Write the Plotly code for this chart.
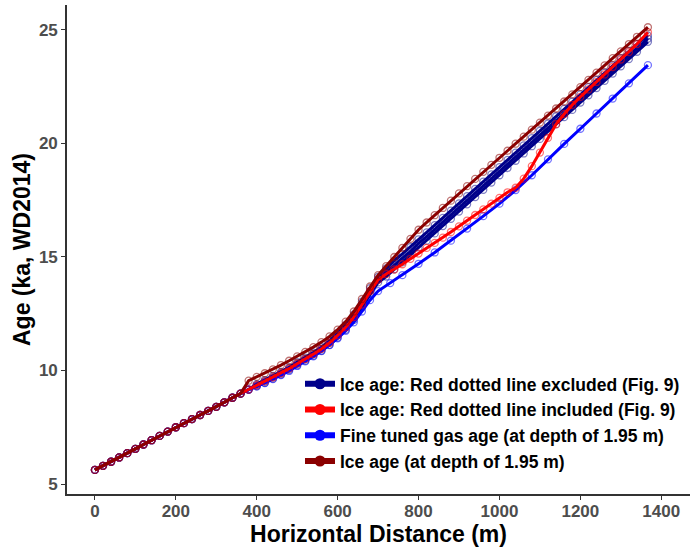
import plotly.graph_objects as go

# ---- data ----
dist = [0, 20, 40, 60, 80, 100, 120, 140, 160, 180, 200, 220, 240, 260, 280, 300, 320, 340, 360, 380,
        400, 420, 440, 460, 480, 500, 520, 540, 560, 580, 600, 620, 640, 660, 680, 700, 720, 740, 760, 780,
        800, 820, 840, 860, 880, 900, 920, 940, 960, 980, 1000, 1020, 1040, 1060, 1080, 1100, 1120, 1140,
        1160, 1180, 1200, 1220, 1240, 1260, 1280, 1300, 1320, 1340, 1367]

base = [5.62, 5.80, 5.98, 6.17, 6.36, 6.55, 6.74, 6.93, 7.12, 7.31, 7.50, 7.68, 7.86, 8.04, 8.22, 8.40,
        8.60, 8.80, 8.98, 9.16]

# Ice age, red dotted line excluded: a band of runs (upper, middle, lower member)
ice_excl_hi = base + [9.40, 9.58, 9.76, 9.94, 10.14, 10.37, 10.57, 10.79, 11.03, 11.31, 11.65, 12.01,
                      12.47, 13.03, 13.63, 14.12, 14.50, 14.84, 15.14, 15.44, 15.78, 16.08, 16.40, 16.72,
                      17.04, 17.36, 17.68, 18.00, 18.32, 18.64, 18.96, 19.28, 19.60, 19.92, 20.24, 20.56,
                      20.88, 21.20, 21.52, 21.84, 22.16, 22.48, 22.80, 23.12, 23.44, 23.76, 24.08, 24.38,
                      24.75]
ice_excl_mid = base + [9.35, 9.52, 9.70, 9.88, 10.08, 10.30, 10.50, 10.72, 10.95, 11.22, 11.55, 11.90,
                       12.35, 12.90, 13.50, 14.00, 14.32, 14.65, 14.95, 15.25, 15.60, 15.90, 16.22, 16.54,
                       16.86, 17.18, 17.50, 17.82, 18.14, 18.46, 18.78, 19.10, 19.42, 19.74, 20.06, 20.38,
                       20.70, 21.02, 21.34, 21.66, 21.98, 22.30, 22.62, 22.94, 23.26, 23.58, 23.90, 24.21,
                       24.62]
ice_excl_lo = base + [9.30, 9.46, 9.64, 9.82, 10.02, 10.23, 10.43, 10.65, 10.87, 11.13, 11.45, 11.79,
                      12.23, 12.77, 13.37, 13.88, 14.14, 14.46, 14.76, 15.06, 15.42, 15.72, 16.04, 16.36,
                      16.68, 17.00, 17.32, 17.64, 17.96, 18.28, 18.60, 18.92, 19.24, 19.56, 19.88, 20.20,
                      20.52, 20.84, 21.16, 21.48, 21.80, 22.12, 22.44, 22.76, 23.08, 23.40, 23.72, 24.04,
                      24.48]

ice_incl = base + [9.35, 9.52, 9.70, 9.88, 10.08, 10.30, 10.50, 10.72, 10.95, 11.22, 11.55, 11.90, 12.35,
                   12.90, 13.50, 14.00, 14.25, 14.45, 14.68, 14.92, 15.15, 15.40, 15.62, 15.85, 16.10,
                   16.35, 16.60, 16.85, 17.10, 17.35, 17.60, 17.85, 18.05, 18.45, 19.00, 19.60, 20.25,
                   20.85, 21.30, 21.70, 22.05, 22.38, 22.71, 23.04, 23.37, 23.70, 24.03, 24.38, 24.90]

ice_195 = base[:-1] + [9.55, 9.72, 9.88, 10.05, 10.24, 10.43, 10.62, 10.82, 11.03, 11.25, 11.50, 11.80,
                       12.15, 12.60, 13.15, 13.70, 14.20, 14.60, 15.00, 15.40, 15.80, 16.20, 16.52, 16.84,
                       17.16, 17.48, 17.80, 18.12, 18.44, 18.75, 19.06, 19.37, 19.68, 19.99, 20.30, 20.61,
                       20.92, 21.23, 21.54, 21.85, 22.16, 22.48, 22.80, 23.12, 23.44, 23.76, 24.06, 24.38,
                       24.70, 25.12]

gas_dist = [0, 20, 40, 60, 80, 100, 120, 140, 160, 180, 200, 220, 240, 260, 280, 300, 320, 340, 360, 380,
            400, 420, 440, 460, 480, 500, 520, 540, 560, 580, 600, 620, 640, 660, 680, 700,
            730, 760, 800, 840, 880, 920, 960, 1000, 1040, 1080, 1120, 1160, 1200, 1240, 1280, 1320, 1367]
gas_age = base + [9.30, 9.45, 9.62, 9.80, 9.98, 10.20, 10.40, 10.62, 10.86, 11.12, 11.42, 11.75, 12.12,
                  12.60, 13.10, 13.50, 13.85, 14.20, 14.70, 15.20, 15.72, 16.25, 16.80, 17.35, 17.95,
                  18.60, 19.30, 19.98, 20.65, 21.32, 21.98, 22.65, 23.45]

names = ["Ice age: Red dotted line excluded (Fig. 9)",
         "Ice age: Red dotted line included (Fig. 9)",
         "Fine tuned gas age (at depth of 1.95 m)",
         "Ice age (at depth of 1.95 m)"]
colors = ["#00008B", "#FF0000", "#0000FF", "#8B0000"]
marker_colors = ["rgba(0,0,139,0.5)", "rgba(255,0,0,0.55)", "rgba(0,0,255,0.55)", "rgba(139,0,0,0.55)"]

# (series index, x, y) in drawing order
members = [
    (0, dist, ice_excl_lo), (0, dist, ice_excl_hi), (0, dist, ice_excl_mid),
    (2, gas_dist, gas_age),
    (1, dist, ice_incl),
    (3, dist, ice_195),
]

fig = go.Figure()
for i, xs, ys in members:
    fig.add_trace(go.Scatter(
        x=xs, y=ys, mode="lines+markers", name=names[i], legendgroup=str(i), showlegend=False,
        line=dict(color=colors[i], width=3),
        marker=dict(symbol="circle-open", size=7, color=marker_colors[i], line=dict(width=1.3)),
    ))

# legend keys (thick line with filled dot, as in the reference)
for i in range(4):
    fig.add_trace(go.Scatter(
        x=[None], y=[None], mode="lines+markers", name=names[i], legendgroup=str(i),
        showlegend=True, legendrank=i + 1,
        line=dict(color=colors[i], width=6),
        marker=dict(symbol="circle", size=11, color=colors[i]),
    ))

font_family = "Liberation Sans, Arial, sans-serif"
fig.update_layout(
    width=691, height=552,
    margin=dict(l=67, r=1, t=5, b=58),
    paper_bgcolor="white", plot_bgcolor="white",
    font=dict(family=font_family),
    showlegend=True,
    legend=dict(x=0.374, y=0.262, xanchor="left", yanchor="top",
                font=dict(family=font_family, size=17.5, color="black", weight="bold"),
                bgcolor="rgba(255,255,255,0)", tracegroupgap=0, itemwidth=30),
    xaxis=dict(range=[-69, 1471], tickvals=[0, 200, 400, 600, 800, 1000, 1200, 1400],
               showgrid=False, zeroline=False, showline=True, linecolor="#333333", linewidth=1.6,
               ticks="outside", ticklen=4, tickcolor="#333333", tickwidth=1.2, automargin=False,
               ticklabelstandoff=-3,
               tickfont=dict(size=17, color="#4D4D4D", weight="bold"),
               title=dict(text="Horizontal Distance (m)", standoff=0,
                          font=dict(size=23, color="black", weight="bold"))),
    yaxis=dict(range=[4.56, 26.1], tickvals=[5, 10, 15, 20, 25],
               showgrid=False, zeroline=False, showline=True, linecolor="#333333", linewidth=1.6,
               ticks="outside", ticklen=4, tickcolor="#333333", tickwidth=1.2, automargin=False,
               tickfont=dict(size=17, color="#4D4D4D", weight="bold"),
               title=dict(text="Age (ka, WD2014)", standoff=2,
                          font=dict(size=23, color="black", weight="bold"))),
)

fig.write_html("out.html", config={"displayModeBar": False},
               post_script="document.body.style.margin='0';")
